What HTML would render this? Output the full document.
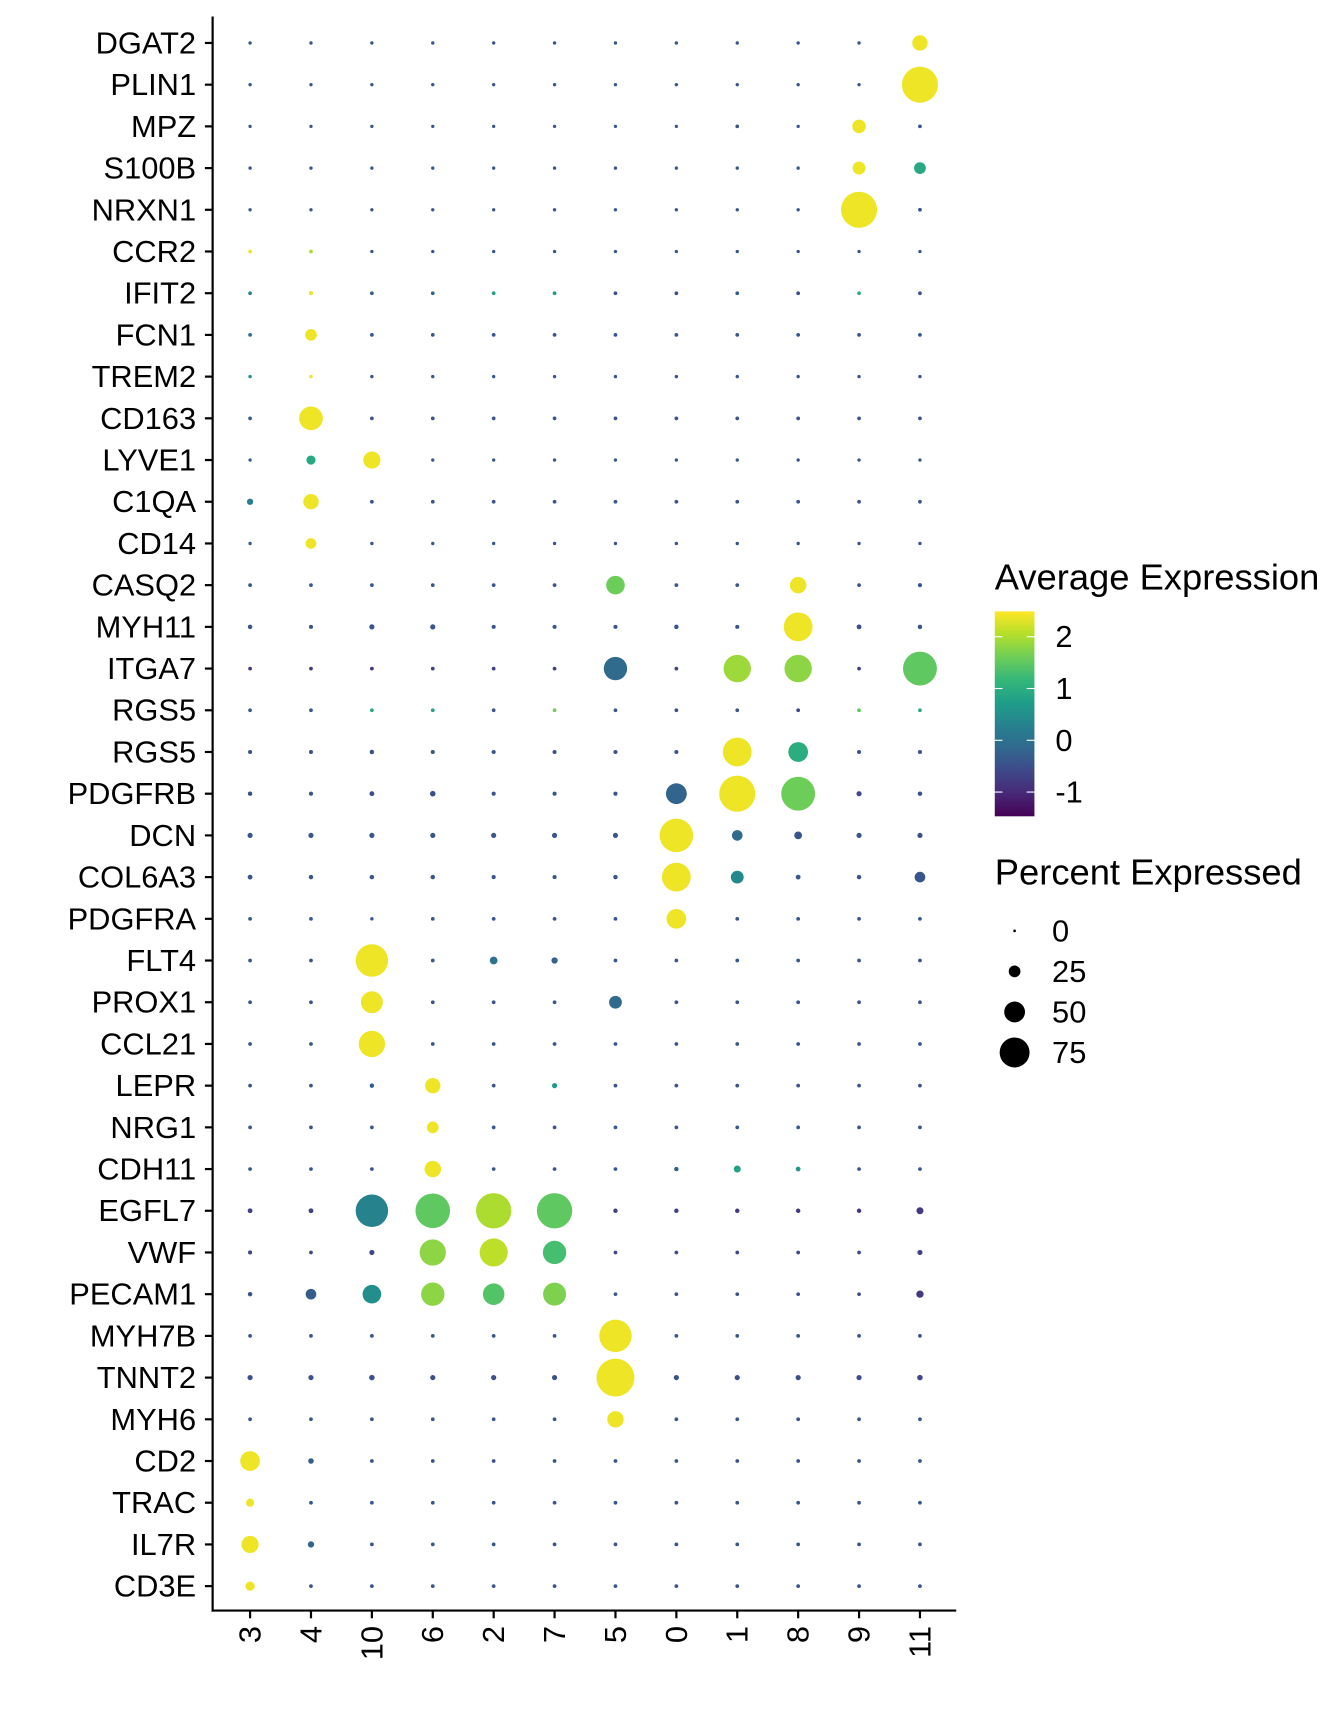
<!DOCTYPE html>
<html><head><meta charset="utf-8"><style>
html,body{margin:0;padding:0;background:#fff}
svg{display:block;font-family:"Liberation Sans",Arial,sans-serif}
</style></head><body>
<svg id="chart" width="1344" height="1728" viewBox="0 0 1220 1568.6" xmlns="http://www.w3.org/2000/svg">
<rect width="1220" height="1569" fill="#fff"/>
<g id="plot"></g>
<g id="legend"></g>
</svg>
<script>
const clusters=["3","4","10","6","2","7","5","0","1","8","9","11"];
const genes=["DGAT2","PLIN1","MPZ","S100B","NRXN1","CCR2","IFIT2","FCN1","TREM2","CD163","LYVE1","C1QA","CD14","CASQ2","MYH11","ITGA7","RGS5","RGS5","PDGFRB","DCN","COL6A3","PDGFRA","FLT4","PROX1","CCL21","LEPR","NRG1","CDH11","EGFL7","VWF","PECAM1","MYH7B","TNNT2","MYH6","CD2","TRAC","IL7R","CD3E"];
const avgExpr=[
[-0.4,-0.4,-0.4,-0.4,-0.4,-0.4,-0.4,-0.4,-0.4,-0.4,-0.4,2.4],
[-0.4,-0.4,-0.4,-0.4,-0.4,-0.4,-0.4,-0.4,-0.4,-0.4,-0.4,2.4],
[-0.4,-0.4,-0.4,-0.4,-0.4,-0.4,-0.4,-0.4,-0.4,-0.4,2.4,-0.4],
[-0.4,-0.4,-0.4,-0.4,-0.4,-0.4,-0.4,-0.4,-0.4,-0.4,2.4,0.9],
[-0.4,-0.4,-0.4,-0.4,-0.4,-0.4,-0.4,-0.4,-0.4,-0.4,2.4,-0.4],
[2.4,2.0,-0.4,-0.4,-0.4,-0.4,-0.4,-0.4,-0.4,-0.4,-0.4,-0.4],
[0.3,2.4,-0.3,-0.2,0.8,0.7,-0.5,-0.5,-0.3,-0.5,1.0,-0.5],
[0.0,2.4,-0.4,-0.4,-0.4,-0.4,-0.4,-0.4,-0.4,-0.4,-0.4,-0.4],
[0.5,2.4,-0.4,-0.4,-0.4,-0.4,-0.4,-0.4,-0.4,-0.4,-0.4,-0.4],
[-0.3,2.4,-0.4,-0.4,-0.4,-0.4,-0.4,-0.4,-0.4,-0.4,-0.4,-0.4],
[-0.3,0.9,2.4,-0.4,-0.4,-0.4,-0.4,-0.4,-0.4,-0.4,-0.4,-0.4],
[0.2,2.4,-0.4,-0.4,-0.4,-0.4,-0.4,-0.4,-0.4,-0.4,-0.4,-0.4],
[-0.3,2.4,-0.4,-0.4,-0.4,-0.4,-0.4,-0.4,-0.4,-0.4,-0.4,-0.4],
[-0.4,-0.4,-0.4,-0.4,-0.4,-0.4,1.6,-0.4,-0.4,2.4,-0.4,-0.4],
[-0.4,-0.4,-0.4,-0.4,-0.4,-0.4,-0.4,-0.4,-0.4,2.4,-0.5,-0.4],
[-0.8,-0.8,-0.8,-0.7,-0.7,-0.7,-0.1,-0.7,1.9,1.8,-0.7,1.5],
[-0.3,-0.4,0.9,0.8,-0.4,1.6,-0.4,-0.5,-0.4,-0.6,1.5,0.9],
[-0.4,-0.4,-0.4,-0.4,-0.4,-0.4,-0.4,-0.4,2.4,1.0,-0.4,-0.4],
[-0.5,-0.4,-0.5,-0.5,-0.4,-0.4,-0.4,-0.2,2.4,1.6,-0.6,-0.5],
[-0.4,-0.4,-0.4,-0.4,-0.4,-0.4,-0.4,2.4,-0.1,-0.4,-0.4,-0.5],
[-0.4,-0.4,-0.4,-0.4,-0.4,-0.4,-0.4,2.4,0.4,-0.4,-0.4,-0.4],
[-0.4,-0.4,-0.4,-0.4,-0.4,-0.4,-0.4,2.4,-0.4,-0.4,-0.4,-0.4],
[-0.4,-0.4,2.4,-0.4,0.0,-0.2,-0.4,-0.4,-0.4,-0.4,-0.4,-0.4],
[-0.4,-0.4,2.4,-0.4,-0.4,-0.4,-0.1,-0.4,-0.4,-0.4,-0.4,-0.4],
[-0.4,-0.4,2.4,-0.4,-0.4,-0.4,-0.4,-0.4,-0.4,-0.4,-0.4,-0.4],
[-0.4,-0.4,-0.3,2.4,-0.4,0.7,-0.4,-0.4,-0.4,-0.4,-0.4,-0.4],
[-0.4,-0.4,-0.4,2.4,-0.4,-0.4,-0.4,-0.4,-0.4,-0.4,-0.4,-0.4],
[-0.4,-0.4,-0.4,2.4,-0.4,-0.4,-0.4,-0.3,0.8,0.6,-0.4,-0.4],
[-0.7,-0.7,0.3,1.5,2.0,1.5,-0.7,-0.7,-0.8,-0.8,-0.8,-0.8],
[-0.6,-0.6,-0.6,1.8,2.1,1.3,-0.6,-0.6,-0.6,-0.6,-0.6,-0.7],
[-0.5,-0.3,0.5,1.8,1.4,1.7,-0.4,-0.5,-0.5,-0.5,-0.5,-0.8],
[-0.4,-0.4,-0.4,-0.4,-0.4,-0.4,2.4,-0.4,-0.4,-0.4,-0.4,-0.4],
[-0.5,-0.5,-0.5,-0.5,-0.5,-0.5,2.4,-0.5,-0.5,-0.5,-0.5,-0.6],
[-0.4,-0.4,-0.4,-0.4,-0.4,-0.4,2.4,-0.4,-0.4,-0.4,-0.4,-0.4],
[2.4,-0.3,-0.4,-0.4,-0.4,-0.4,-0.4,-0.4,-0.4,-0.4,-0.4,-0.4],
[2.4,-0.4,-0.4,-0.4,-0.4,-0.4,-0.4,-0.4,-0.4,-0.4,-0.4,-0.4],
[2.4,-0.2,-0.4,-0.4,-0.4,-0.4,-0.4,-0.4,-0.4,-0.4,-0.4,-0.4],
[2.4,-0.4,-0.4,-0.4,-0.4,-0.4,-0.4,-0.4,-0.4,-0.4,-0.4,-0.4]
];
const pctExpr=[
[2,2,2,2,2,2,2,2,2,2,2,35],
[2,2,2,2,2,2,2,2,2,2,2,92],
[2,2,2,2,2,2,2,2,3,2,30,3],
[2,2,2,2,2,2,2,2,2,2,28,25],
[2,2,2,2,2,2,2,2,2,2,92,3],
[3,3,2,2,2,2,2,2,2,2,2,2],
[3,4,3,3,3,3,3,3,3,3,3,3],
[3,25,3,3,3,3,3,3,3,3,3,3],
[2,2,2,2,2,2,2,2,2,2,2,2],
[3,58,3,3,3,3,3,3,3,3,3,3],
[2,18,40,2,2,2,2,2,2,2,2,2],
[10,35,3,3,3,3,3,3,3,3,3,3],
[2,22,2,2,2,2,2,2,2,2,2,2],
[3,3,3,3,3,3,44,3,3,38,3,4],
[5,4,7,7,4,4,4,5,4,72,6,5],
[3,3,3,3,3,3,57,3,68,68,3,86],
[3,3,3,3,3,3,3,3,3,3,3,3],
[4,4,5,4,4,4,4,4,72,47,4,4],
[5,4,6,8,4,4,4,50,92,86,7,5],
[7,7,7,7,7,7,7,85,22,14,7,7],
[6,5,5,5,4,4,5,72,28,6,5,22],
[3,3,2,3,3,3,3,47,3,3,3,3],
[3,3,82,3,14,10,3,3,3,3,3,3],
[3,3,53,3,3,3,28,3,3,3,3,3],
[3,3,65,3,3,3,3,3,3,3,3,3],
[3,3,5,35,3,7,3,3,3,3,3,3],
[3,3,3,25,3,3,3,3,3,3,3,3],
[3,3,3,38,3,3,3,5,12,6,3,3],
[6,6,82,88,90,90,5,5,5,5,5,12],
[4,3,7,65,70,57,3,3,3,3,3,7],
[5,22,44,57,52,56,3,3,3,3,3,13],
[3,3,3,3,3,3,82,3,3,3,3,3],
[7,7,8,7,7,7,97,7,7,7,7,8],
[3,3,3,3,3,3,38,3,3,3,3,3],
[47,8,3,3,3,3,3,3,3,3,3,3],
[15,3,3,3,3,3,3,3,3,3,3,3],
[40,10,3,3,3,3,3,3,3,3,3,3],
[18,3,3,3,3,3,3,3,3,3,3,3]
];
const colorTicks=[2,1,0,-1];
const sizeTicks=[0,25,50,75];

const NS="http://www.w3.org/2000/svg";
function el(t,a,p){const e=document.createElementNS(NS,t);for(const k in a)e.setAttribute(k,a[k]);p.appendChild(e);return e;}
const V=["#440154","#482878","#3e4989","#31688e","#26828e","#1f9e89","#35b779","#6ece58","#b5de2b","#fde725"];
const vmin=-1.47,vmax=2.49;
function viridis(v){let t=(v-vmin)/(vmax-vmin);t=Math.max(0,Math.min(1,t))*(V.length-1);const i=Math.min(Math.floor(t),V.length-2),f=t-i;
 const a=V[i],b=V[i+1];const c=j=>Math.round(parseInt(a.substr(j,2),16)*(1-f)+parseInt(b.substr(j,2),16)*f);
 return `rgb(${c(1)},${c(3)},${c(5)})`;}
const xScale=i=>227+i*55.28;
const yScale=i=>39+i*37.86;
const rScale=p=>1.2+0.165*p;
const cbY=v=>672-47*v;
const FS=28;

const plot=document.getElementById('plot');
const ax=el('line',{x1:193,y1:15,x2:193,y2:1463,stroke:'#000','stroke-width':2},plot);


const bx=el('line',{x1:192,y1:1462,x2:868,y2:1462,stroke:'#000','stroke-width':2},plot);


genes.forEach((g,i)=>{const y=yScale(i);
 const tk=el('line',{x1:186,y1:y,x2:193,y2:y,stroke:'#000','stroke-width':2},plot);
 
 
 const t=el('text',{x:178,y:y+9.5,'text-anchor':'end','font-size':FS,fill:'#000'},plot);t.textContent=g;
 
 
});
clusters.forEach((c,j)=>{const x=xScale(j);
 const tk=el('line',{x1:x,y1:1462,x2:x,y2:1469,stroke:'#000','stroke-width':2},plot);
 
 
 const t=el('text',{x:0,y:0,'text-anchor':'end','font-size':FS,fill:'#000',transform:`translate(${x+9.5},1476) rotate(-90)`},plot);t.textContent=c;
 
 
});
genes.forEach((g,i)=>clusters.forEach((c,j)=>{
 const d=el('circle',{cx:xScale(j),cy:yScale(i),r:rScale(pctExpr[i][j]),fill:viridis(avgExpr[i][j])},plot);
 
 
}));

const lg=document.getElementById('legend');
const t1=el('text',{x:903,y:535,'font-size':33,fill:'#000'},lg);t1.textContent='Average Expression';


const defs=el('defs',{},lg);
const gr=el('linearGradient',{id:'vg',x1:0,y1:1,x2:0,y2:0},defs);
V.forEach((c,i)=>el('stop',{offset:i/(V.length-1),'stop-color':c},gr));
const cb=el('rect',{x:903,y:555,width:36,height:186,fill:'url(#vg)'},lg);


colorTicks.forEach(v=>{const y=cbY(v);
 el('line',{x1:903,y1:y,x2:910,y2:y,stroke:'#fff','stroke-width':1},lg);
 el('line',{x1:932,y1:y,x2:939,y2:y,stroke:'#fff','stroke-width':1},lg);
 const t=el('text',{x:958,y:y+9.5,'font-size':FS,fill:'#000'},lg);t.textContent=v<0?'-'+Math.abs(v):String(v);
 
 
});
const t2=el('text',{x:903,y:803,'font-size':33,fill:'#000'},lg);t2.textContent='Percent Expressed';


sizeTicks.forEach((p,i)=>{const y=845+i*36.8;
 const c=el('circle',{cx:921,cy:y,r:rScale(p),fill:'#000'},lg);
 
 
 const t=el('text',{x:955,y:y+9.5,'font-size':FS,fill:'#000'},lg);t.textContent=p;
 
 
});
</script>
</body></html>
